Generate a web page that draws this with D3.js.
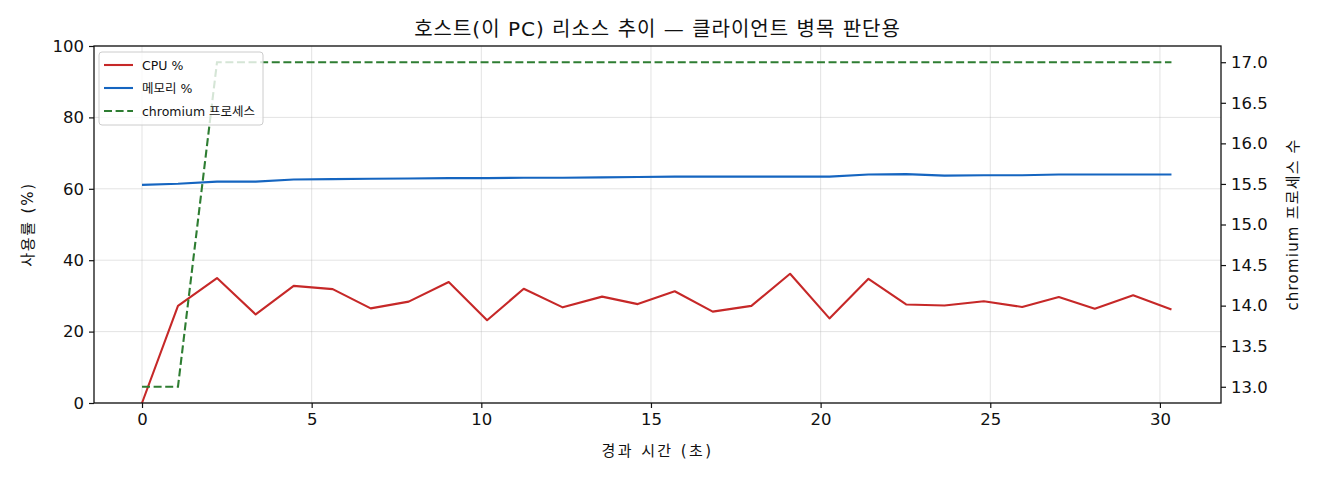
<!DOCTYPE html>
<html><head><meta charset="utf-8">
<script src="https://cdn.jsdelivr.net/npm/d3@7"></script>
<style>
html,body{margin:0;padding:0;background:#fff;}
svg text{font-family:"DejaVu Sans","Noto Sans CJK KR",sans-serif;fill:#111;}
</style></head>
<body><svg id="c" width="1320" height="480"></svg>
<script>
const times = [0, 1.06, 2.21, 3.35, 4.47, 5.62, 6.74, 7.86, 9.04, 10.17, 11.25, 12.40, 13.56, 14.61, 15.70, 16.82, 17.96, 19.10, 20.26, 21.41, 22.52, 23.65, 24.81, 25.94, 27.02, 28.08, 29.21, 30.34];
const cpu = [0, 27.2, 35.0, 24.8, 32.8, 31.9, 26.5, 28.4, 33.9, 23.2, 32.0, 26.8, 29.8, 27.7, 31.3, 25.6, 27.2, 36.2, 23.7, 34.8, 27.6, 27.3, 28.5, 26.9, 29.7, 26.4, 30.2, 26.2];
const mem = [61.1, 61.4, 62.0, 62.0, 62.6, 62.7, 62.8, 62.9, 63.0, 63.0, 63.1, 63.1, 63.2, 63.3, 63.4, 63.4, 63.4, 63.4, 63.4, 64.0, 64.1, 63.7, 63.8, 63.8, 64.0, 64.0, 64.0, 64.0];
const procs = [13, 13, 17, 17, 17, 17, 17, 17, 17, 17, 17, 17, 17, 17, 17, 17, 17, 17, 17, 17, 17, 17, 17, 17, 17, 17, 17, 17];
const xTicks = [0, 5, 10, 15, 20, 25, 30];
const yTicks = [0, 20, 40, 60, 80, 100];
const y2Ticks = [13.0, 13.5, 14.0, 14.5, 15.0, 15.5, 16.0, 16.5, 17.0];
const title = "호스트(이 PC) 리소스 추이 — 클라이언트 병목 판단용";
const xLabel = "경과 시간 (초)";
const yLabel = "사용률 (%)";
const y2Label = "chromium 프로세스 수";
const seriesNames = ["CPU %", "메모리 %", "chromium 프로세스"];

const L = 94, R = 1221, T = 46, B = 403;
const svg = d3.select("#c");
const x = d3.scaleLinear().domain([-1.415, 31.8]).range([L, R]);
const y = d3.scaleLinear().domain([0, 100]).range([B, T]);
const y2 = d3.scaleLinear().domain([12.8, 17.2]).range([B, T]);

// grid
const g = svg.append("g");
g.selectAll("line.vx").data(xTicks).join("line")
  .attr("x1", d => x(d)).attr("x2", d => x(d)).attr("y1", T).attr("y2", B)
  .attr("stroke", "#b0b0b0").attr("stroke-opacity", 0.35).attr("stroke-width", 1);
g.selectAll("line.hy").data(yTicks).join("line")
  .attr("x1", L).attr("x2", R).attr("y1", d => y(d)).attr("y2", d => y(d))
  .attr("stroke", "#b0b0b0").attr("stroke-opacity", 0.35).attr("stroke-width", 1);

const lineLeft = d3.line().x((d, i) => x(times[i])).y(d => y(d));
const lineRight = d3.line().x((d, i) => x(times[i])).y(d => y2(d));

svg.append("path").attr("d", lineLeft(mem)).attr("fill", "none")
  .attr("stroke", "#1565c0").attr("stroke-width", 2.1).attr("stroke-linejoin", "round");
svg.append("path").attr("d", lineLeft(cpu)).attr("fill", "none")
  .attr("stroke", "#c62828").attr("stroke-width", 2.1).attr("stroke-linejoin", "round");
svg.append("path").attr("d", lineRight(procs)).attr("fill", "none")
  .attr("stroke", "#2e7d32").attr("stroke-width", 2.1).attr("stroke-dasharray", "8,3.6");

svg.append("rect").attr("x", L).attr("y", T).attr("width", R - L).attr("height", B - T)
  .attr("fill", "none").attr("stroke", "#111").attr("stroke-width", 1.3);

const fs = 16.5;
const ax = d3.axisBottom(x).tickValues(xTicks).tickFormat(d3.format("d")).tickSize(5).tickPadding(5);
const gx = svg.append("g").attr("transform", `translate(0,${B})`).call(ax);
const ay = d3.axisLeft(y).tickValues(yTicks).tickFormat(d3.format("d")).tickSize(5).tickPadding(5);
const gy = svg.append("g").attr("transform", `translate(${L},0)`).call(ay);
const ay2 = d3.axisRight(y2).tickValues(y2Ticks).tickFormat(d3.format(".1f")).tickSize(5).tickPadding(5);
const gy2 = svg.append("g").attr("transform", `translate(${R},0)`).call(ay2);
[gx, gy, gy2].forEach(a => {
  a.select(".domain").remove();
  a.selectAll("line").attr("stroke", "#111").attr("stroke-width", 1.2);
  a.selectAll("text").attr("font-size", fs).style("font-family", '"DejaVu Sans","Noto Sans CJK KR",sans-serif').attr("fill", "#111");
});

svg.append("text").attr("x", (L + R) / 2).attr("y", 36).attr("text-anchor", "middle")
  .attr("font-size", 20).attr("letter-spacing", 1).text(title);
svg.append("text").attr("x", (L + R) / 2).attr("y", 456).attr("text-anchor", "middle")
  .attr("font-size", 15).attr("letter-spacing", 2.4).text(xLabel);
svg.append("text").attr("transform", `translate(33,${(T + B) / 2}) rotate(-90)`).attr("text-anchor", "middle")
  .attr("font-size", 15).attr("letter-spacing", 1.8).text(yLabel);
svg.append("text").attr("transform", `translate(1298,${(T + B) / 2}) rotate(-90)`).attr("text-anchor", "middle")
  .attr("font-size", 15).attr("letter-spacing", 1.2).text(y2Label);

// legend
const lg = svg.append("g");
lg.append("rect").attr("x", 99).attr("y", 52).attr("width", 164).attr("height", 73).attr("rx", 3)
  .attr("fill", "#fff").attr("fill-opacity", 0.8).attr("stroke", "#ccc").attr("stroke-width", 1);
const colors = ["#c62828", "#1565c0", "#2e7d32"];
const dashes = [null, null, "8,3.6"];
seriesNames.forEach((n, i) => {
  const yy = 65 + i * 23;
  lg.append("line").attr("x1", 104).attr("x2", 133).attr("y1", yy).attr("y2", yy)
    .attr("stroke", colors[i]).attr("stroke-width", 2.1).attr("stroke-dasharray", dashes[i]);
  lg.append("text").attr("x", 142).attr("y", yy + 4.5).attr("font-size", 12.5).text(n);
});
</script></body></html>
